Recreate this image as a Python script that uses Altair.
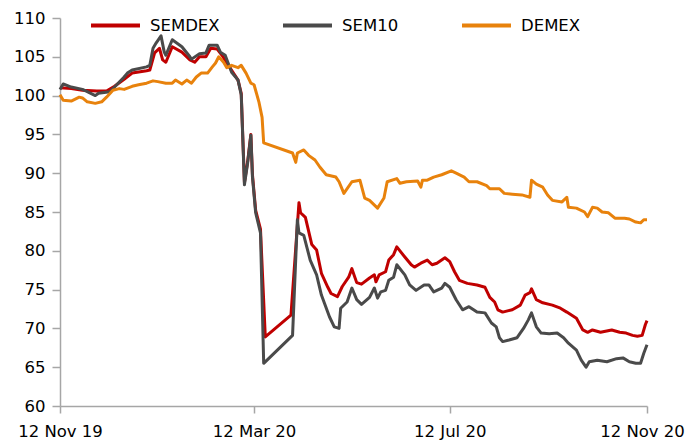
import altair as alt
import pandas as pd

series_names = ["SEMDEX", "SEM10", "DEMEX"]
series_colors = ["#C00000", "#4A4A4A", "#E8820C"]

semdex_dates = [
    "2019-11-12", "2019-11-19", "2019-11-26", "2019-12-05", "2019-12-11", "2019-12-16",
    "2019-12-22", "2019-12-27", "2020-01-05", "2020-01-07", "2020-01-10", "2020-01-13",
    "2020-01-15", "2020-01-17", "2020-01-21", "2020-01-27", "2020-02-01", "2020-02-04",
    "2020-02-07", "2020-02-11", "2020-02-14", "2020-02-18", "2020-02-21", "2020-02-25",
    "2020-03-02", "2020-03-04", "2020-03-06", "2020-03-08", "2020-03-10", "2020-03-11",
    "2020-03-13", "2020-03-16", "2020-03-19", "2020-04-04", "2020-04-09", "2020-04-10",
    "2020-04-13", "2020-04-17", "2020-04-20", "2020-04-23", "2020-04-27", "2020-04-29",
    "2020-05-03", "2020-05-06", "2020-05-10", "2020-05-12", "2020-05-15", "2020-05-18",
    "2020-05-23", "2020-05-26", "2020-05-27", "2020-05-29", "2020-06-02", "2020-06-04",
    "2020-06-07", "2020-06-09", "2020-06-14", "2020-06-18", "2020-06-20", "2020-06-24",
    "2020-06-28", "2020-07-01", "2020-07-04", "2020-07-09", "2020-07-12", "2020-07-15",
    "2020-07-18", "2020-07-23", "2020-07-29", "2020-08-03", "2020-08-06", "2020-08-09",
    "2020-08-11", "2020-08-14", "2020-08-20", "2020-08-25", "2020-08-28", "2020-08-31",
    "2020-09-01", "2020-09-04", "2020-09-08", "2020-09-14", "2020-09-19", "2020-09-23",
    "2020-09-29", "2020-10-03", "2020-10-06", "2020-10-09", "2020-10-14", "2020-10-21",
    "2020-10-26", "2020-10-30", "2020-11-03", "2020-11-06", "2020-11-09", "2020-11-11",
    "2020-11-12",
]
semdex_values = [
    101.0, 100.9, 100.7, 100.6, 100.6, 101.2,
    102.1, 102.9, 103.2, 103.3, 105.5, 106.1,
    104.6, 104.3, 106.3, 105.6, 104.6, 104.3,
    105.0, 105.0, 106.1, 106.0, 105.2, 103.9,
    102.0, 100.3, 88.8, 91.5, 95.0, 89.8,
    85.2, 82.8, 68.9, 71.7, 86.2, 84.9,
    84.3, 80.8, 80.1, 77.1, 75.3, 74.5,
    74.1, 75.4, 76.6, 77.7, 75.9, 75.7,
    76.5, 76.9, 76.0, 76.9, 77.3, 78.8,
    79.5, 80.5, 79.2, 78.2, 77.9, 78.4,
    78.8, 78.2, 78.4, 79.1, 78.6, 77.3,
    76.2, 75.8, 75.6, 75.3, 74.0, 73.4,
    72.4, 72.1, 72.4, 73.0, 74.3, 74.6,
    75.1, 73.7, 73.3, 73.0, 72.6, 72.1,
    71.3, 69.8, 69.5, 69.8, 69.5, 69.8,
    69.5, 69.4, 69.1, 69.0, 69.1, 70.5,
    71.0,
]

sem10_dates = [
    "2019-11-12", "2019-11-14", "2019-11-19", "2019-11-26", "2019-11-29", "2019-12-04",
    "2019-12-06", "2019-12-13", "2019-12-16", "2019-12-22", "2019-12-24", "2019-12-27",
    "2020-01-05", "2020-01-07", "2020-01-09", "2020-01-11", "2020-01-14", "2020-01-16",
    "2020-01-17", "2020-01-21", "2020-01-27", "2020-02-01", "2020-02-02", "2020-02-07",
    "2020-02-11", "2020-02-13", "2020-02-18", "2020-02-20", "2020-02-23", "2020-02-27",
    "2020-03-02", "2020-03-04", "2020-03-06", "2020-03-08", "2020-03-10", "2020-03-11",
    "2020-03-13", "2020-03-16", "2020-03-18", "2020-04-05", "2020-04-08", "2020-04-09",
    "2020-04-12", "2020-04-16", "2020-04-20", "2020-04-23", "2020-04-28", "2020-05-01",
    "2020-05-04", "2020-05-05", "2020-05-09", "2020-05-12", "2020-05-15", "2020-05-18",
    "2020-05-23", "2020-05-26", "2020-05-28", "2020-05-30", "2020-06-02", "2020-06-04",
    "2020-06-07", "2020-06-09", "2020-06-14", "2020-06-17", "2020-06-21", "2020-06-26",
    "2020-06-29", "2020-07-02", "2020-07-07", "2020-07-09", "2020-07-12", "2020-07-16",
    "2020-07-20", "2020-07-24", "2020-07-29", "2020-08-03", "2020-08-07", "2020-08-10",
    "2020-08-12", "2020-08-14", "2020-08-18", "2020-08-23", "2020-08-27", "2020-08-30",
    "2020-09-01", "2020-09-04", "2020-09-07", "2020-09-12", "2020-09-17", "2020-09-21",
    "2020-09-24", "2020-09-29", "2020-10-02", "2020-10-05", "2020-10-07", "2020-10-12",
    "2020-10-18", "2020-10-24", "2020-10-28", "2020-11-01", "2020-11-05", "2020-11-08",
    "2020-11-10", "2020-11-12",
]
sem10_values = [
    100.8, 101.5, 101.1, 100.8, 100.5, 100.0,
    100.3, 100.5, 101.1, 102.4, 102.9, 103.3,
    103.7, 103.9, 106.1, 106.8, 107.7, 105.6,
    105.2, 107.2, 106.3, 105.0, 104.7, 105.4,
    105.5, 106.5, 106.5, 105.6, 105.2, 103.0,
    102.0, 100.1, 88.5, 91.3, 94.9, 89.5,
    84.9, 82.3, 65.5, 69.1, 84.0, 82.3,
    82.0, 78.8, 76.9, 74.3, 71.5, 70.2,
    70.0, 72.6, 73.4, 75.2, 73.7, 73.1,
    74.0, 75.2, 73.9, 74.7, 74.9, 76.2,
    76.6, 78.2, 76.9, 75.6, 74.9, 75.6,
    75.6, 74.7, 75.2, 75.8, 75.3, 73.7,
    72.4, 72.8, 72.1, 72.0, 70.7, 70.2,
    68.8, 68.3, 68.5, 68.8, 70.0, 71.1,
    72.0, 70.2, 69.4, 69.3, 69.4, 68.8,
    68.1, 67.2, 65.9, 65.0, 65.7, 65.9,
    65.7, 66.1, 66.2, 65.7, 65.5, 65.5,
    66.8, 67.9,
]

demex_dates = [
    "2019-11-12", "2019-11-14", "2019-11-19", "2019-11-24", "2019-11-26", "2019-11-29",
    "2019-12-04", "2019-12-08", "2019-12-11", "2019-12-15", "2019-12-19", "2019-12-22",
    "2019-12-27", "2019-12-31", "2020-01-05", "2020-01-09", "2020-01-12", "2020-01-17",
    "2020-01-21", "2020-01-23", "2020-01-27", "2020-01-30", "2020-02-02", "2020-02-05",
    "2020-02-08", "2020-02-12", "2020-02-15", "2020-02-17", "2020-02-19", "2020-02-22",
    "2020-02-24", "2020-02-27", "2020-03-02", "2020-03-04", "2020-03-07", "2020-03-10",
    "2020-03-12", "2020-03-15", "2020-03-17", "2020-03-18", "2020-04-05", "2020-04-07",
    "2020-04-08", "2020-04-12", "2020-04-15", "2020-04-19", "2020-04-22", "2020-04-26",
    "2020-05-02", "2020-05-04", "2020-05-07", "2020-05-12", "2020-05-17", "2020-05-20",
    "2020-05-23", "2020-05-28", "2020-06-01", "2020-06-03", "2020-06-09", "2020-06-11",
    "2020-06-15", "2020-06-22", "2020-06-24", "2020-06-25", "2020-06-28", "2020-07-02",
    "2020-07-07", "2020-07-13", "2020-07-16", "2020-07-21", "2020-07-24", "2020-07-29",
    "2020-08-04", "2020-08-06", "2020-08-12", "2020-08-15", "2020-08-20", "2020-08-26",
    "2020-08-31", "2020-09-01", "2020-09-04", "2020-09-08", "2020-09-11", "2020-09-14",
    "2020-09-20", "2020-09-23", "2020-09-24", "2020-09-29", "2020-10-04", "2020-10-06",
    "2020-10-09", "2020-10-12", "2020-10-15", "2020-10-19", "2020-10-23", "2020-10-29",
    "2020-11-01", "2020-11-05", "2020-11-08", "2020-11-10", "2020-11-12",
]
demex_values = [
    100.1, 99.4, 99.3, 99.8, 99.7, 99.2,
    99.0, 99.2, 99.8, 100.7, 100.9, 100.8,
    101.2, 101.4, 101.6, 101.9, 101.8, 101.6,
    101.6, 102.0, 101.5, 102.0, 101.6, 102.4,
    102.9, 102.9, 103.7, 104.2, 105.0, 104.3,
    103.6, 103.9, 103.6, 103.9, 102.9, 101.6,
    101.4, 99.2, 97.2, 93.9, 92.6, 91.4,
    92.6, 93.0, 92.3, 91.7, 90.8, 89.8,
    89.5, 88.9, 87.4, 88.9, 89.1, 86.8,
    86.5, 85.5, 86.8, 88.9, 89.3, 88.7,
    88.9, 89.0, 88.2, 89.1, 89.1, 89.5,
    89.8, 90.3, 90.0, 89.5, 88.9, 88.9,
    88.4, 88.0, 88.0, 87.4, 87.3, 87.2,
    86.9, 89.1, 88.6, 88.2, 87.2, 86.5,
    86.3, 86.9, 85.6, 85.5, 85.0, 84.4,
    85.6, 85.5, 85.0, 84.9, 84.2, 84.2,
    84.1, 83.7, 83.6, 84.0, 84.0,
]

x_tick_dates = ["2019-11-12", "2020-03-12", "2020-07-12", "2020-11-12"]
y_ticks = [60, 65, 70, 75, 80, 85, 90, 95, 100, 105, 110]

rows = []
for name, ds, vs in [("SEMDEX", semdex_dates, semdex_values),
                     ("SEM10", sem10_dates, sem10_values),
                     ("DEMEX", demex_dates, demex_values)]:
    for d, v in zip(ds, vs):
        rows.append({"series": name, "date": d + "T00:00:00", "value": v})
df = pd.DataFrame(rows)


def dt(s):
    y, m, d = s.split("-")
    return alt.DateTime(year=int(y), month=int(m), date=int(d))


font = "DejaVu Sans"
fsize = 16.5
axis_col = "#A6A6A6"

chart = alt.Chart(df).mark_line(strokeWidth=3, strokeJoin="round").encode(
    x=alt.X(
        "date:T",
        scale=alt.Scale(domain=[dt(x_tick_dates[0]), dt(x_tick_dates[-1])]),
        axis=alt.Axis(
            values=[dt(s) for s in x_tick_dates], format="%d %b %y", title=None,
            grid=False, labelFont=font, labelFontSize=fsize, labelColor="black",
            domainColor=axis_col, domainWidth=1.5, tickColor=axis_col, tickWidth=1.5,
            tickSize=7, labelPadding=10, labelOverlap=False, labelFlush=False,
            labelOffset={"condition": {"test": "datum.index == 1", "value": -5}, "value": 0},
        ),
    ),
    y=alt.Y(
        "value:Q",
        scale=alt.Scale(domain=[60, 110], nice=False, zero=False),
        axis=alt.Axis(
            values=y_ticks, title=None, grid=False, labelFont=font, labelFontSize=fsize,
            labelColor="black", domainColor=axis_col, domainWidth=1.5, tickColor=axis_col,
            tickWidth=1.5, tickSize=8, labelPadding=7,
        ),
    ),
    color=alt.Color(
        "series:N",
        scale=alt.Scale(domain=series_names, range=series_colors),
        legend=alt.Legend(
            title=None, orient="none", legendX=29, legendY=-19, direction="horizontal",
            symbolType="stroke", symbolSize=2400, symbolStrokeWidth=4,
            labelFont=font, labelFontSize=fsize, labelColor="black",
            columnPadding=55, labelOffset=8,
        ),
    ),
).properties(
    width=587, height=388,
    autosize=alt.AutoSizeParams(type="none"),
    padding={"left": 52, "top": 10, "right": 39, "bottom": 36},
).configure_view(stroke=None)

chart.save("out.html", embed_options={"renderer": "svg", "actions": False})
